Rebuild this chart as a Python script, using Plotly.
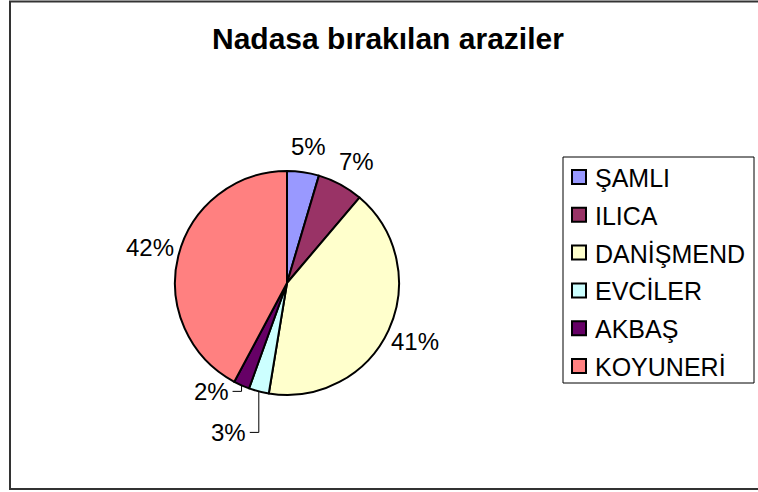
import math
import plotly.graph_objects as go

# ---- data ----
labels = ["ŞAMLI", "ILICA", "DANİŞMEND", "EVCİLER", "AKBAŞ", "KOYUNERİ"]
values = [4.6, 6.6, 41.4, 2.9, 2.3, 42.2]
colors = ["#9999FF", "#993366", "#FFFFCC", "#CCFFFF", "#660066", "#FF8080"]
title_text = "Nadasa bırakılan araziler"

W, H = 758, 492
CX, CY, R = 287, 283, 112  # pie centre / radius in px
FONT = "Arial, 'Liberation Sans', sans-serif"

fig = go.Figure()
fig.add_trace(go.Pie(
    labels=labels, values=values, sort=False, direction="clockwise", rotation=0,
    marker=dict(colors=colors, line=dict(color="black", width=2)),
    textinfo="none", hoverinfo="label+percent", showlegend=False,
    domain=dict(x=[(CX - R) / W, (CX + R) / W], y=[1 - (CY + R) / H, 1 - (CY - R) / H]),
))

def px2paper(x, y):
    return x / W, 1 - y / H

annotations = []
shapes = []

def line(xa, ya, xb, yb, color="black", width=1):
    a = px2paper(xa, ya); b = px2paper(xb, yb)
    shapes.append(dict(type="line", xref="paper", yref="paper",
                       x0=a[0], y0=a[1], x1=b[0], y1=b[1],
                       line=dict(color=color, width=width)))

def text(x, y, s, size=24, xanchor="center", bold=False):
    px, py = px2paper(x, y)
    annotations.append(dict(x=px, y=py, xref="paper", yref="paper",
                            text=f"<b>{s}</b>" if bold else s,
                            showarrow=False, xanchor=xanchor, yanchor="middle",
                            font=dict(family=FONT, size=size, color="black")))

# ---- percentage labels ----
total = sum(values)
cum = 0.0
for i, v in enumerate(values):
    frac = v / total
    mid = (cum + frac / 2) * 2 * math.pi
    cum += frac
    pct = f"{round(frac * 100):d}%"
    ex, ey = CX + R * math.sin(mid), CY - R * math.cos(mid)
    if frac < 0.04:
        # small slices: leader line going down, label to the left
        drop = 6 if i == 4 else 41
        lx, ly = ex, ey + drop
        hx = lx - 9
        line(ex, ey, lx, ly)
        line(lx, ly, hx, ly)
        text(hx - 2, ly, pct, xanchor="right")
    else:
        rr = 1.26 * R
        top = math.cos(mid) > 0.5
        # Excel pushes labels near the top slightly outward horizontally
        nudge_x = 5 * math.sin(mid) if top else 0
        nudge_y = 3 if top else -1
        text(CX + rr * math.sin(mid) + nudge_x, CY - rr * math.cos(mid) + nudge_y, pct)

# ---- legend (drawn manually, Excel style) ----
LX0, LX1, LY0, LY1 = 563, 754, 157, 383
a = px2paper(LX0, LY0); b = px2paper(LX1, LY1)
shapes.append(dict(type="rect", xref="paper", yref="paper",
                   x0=a[0], y0=b[1], x1=b[0], y1=a[1],
                   line=dict(color="black", width=1), fillcolor="white"))
row0, step = 177, 37.8
for i, (lab, col) in enumerate(zip(labels, colors)):
    yc = row0 + i * step
    p = px2paper(572, yc - 7); q = px2paper(586, yc + 7)
    shapes.append(dict(type="rect", xref="paper", yref="paper",
                       x0=p[0], y0=q[1], x1=q[0], y1=p[1],
                       line=dict(color="black", width=2), fillcolor=col))
    text(593, yc + 1, lab, size=25, xanchor="left")

# ---- title ----
text(388, 38, title_text, size=30, bold=True)

# ---- outer chart border ----
a = px2paper(10, 1.5); b = px2paper(770, 489)
shapes.append(dict(type="rect", xref="paper", yref="paper",
                   x0=a[0], y0=b[1], x1=b[0], y1=a[1],
                   line=dict(color="#333333", width=2), layer="below"))

fig.update_layout(
    width=W, height=H, margin=dict(l=0, r=0, t=0, b=0),
    paper_bgcolor="white", plot_bgcolor="white",
    showlegend=False,
    annotations=annotations, shapes=shapes,
)

fig.write_html("out.html", config={"displayModeBar": False},
               post_script="document.body.style.margin='0';")
